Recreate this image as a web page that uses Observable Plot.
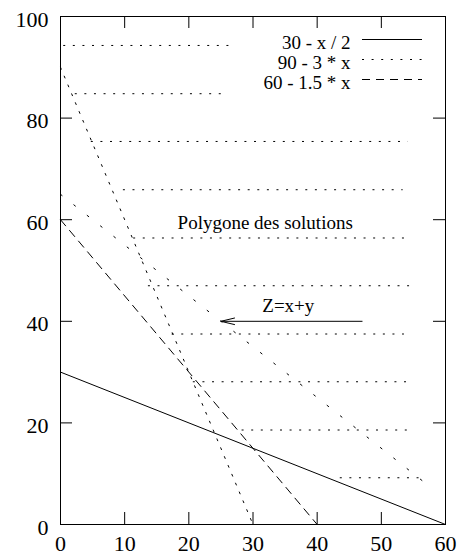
<!DOCTYPE html>
<html><head><meta charset="utf-8">
<script src="https://cdn.jsdelivr.net/npm/d3@7"></script>
<script src="https://cdn.jsdelivr.net/npm/@observablehq/plot@0.6"></script>
<style>body{margin:0;background:#fff}</style>
</head><body><div id="chart"></div>
<script>
// Tick values
const xTicks = [0, 10, 20, 30, 40, 50, 60];
const yTicks = [0, 20, 40, 60, 80, 100];
// Constraint lines (endpoints)
const lineSolid = [{x: 0, y: 30}, {x: 60, y: 0}];   // 30 - x / 2
const lineDotted = [{x: 0, y: 90}, {x: 30, y: 0}];  // 90 - 3 * x
const lineDashed = [{x: 0, y: 60}, {x: 40, y: 0}];  // 60 - 1.5 * x
// Objective (iso-Z) line, sparse dots
const objective = [{x: 0, y: 65}, {x: 58, y: 7}];
// Hatching of the feasible polygon
const hatchY = [94.3, 84.8, 75.4, 65.9, 56.4, 47.0, 37.5, 28.1, 18.6, 9.2];
const hatchStart = [0.5, 2.3, 4.8, 9.8, 11.4, 13.7, 17.4, 20.7, 28.3, 43.6];
const hatchEnd = [26.5, 25.2, 54.2, 53.4, 54.0, 54.4, 53.6, 54.2, 54.2, 55.9];
// Legend
const legendLabels = ["30 - x / 2", "90 - 3 * x", "60 - 1.5 * x"];
const legendDash = [null, "2,7.6", "8,6"];
// Annotations
const arrowZ = [{x1: 47, x2: 25, y: 40}];
const notes = [
  {x: 31.9, y: 59.4, text: "Polygone des solutions"},
  {x: 35.5, y: 43.1, text: "Z=x+y"}
];

const FONT = "Liberation Serif";
const hatch = hatchY.map((y, i) => ({y, x1: hatchStart[i], x2: hatchEnd[i]}));

const legendMarks = legendLabels.flatMap((lab, i) => [
  Plot.ruleY([100], {y: d => d, dy: 23 + 20 * i, insetLeft: 302, insetRight: 23,
    stroke: "black", strokeWidth: 1, strokeDasharray: legendDash[i]}),
  Plot.text([lab], {text: d => d, frameAnchor: "top-right", dx: -95, dy: 26 + 20 * i,
    textAnchor: "end", lineAnchor: "middle", fontSize: 19, fill: "black"})
]);

const chart = Plot.plot({
  width: 457, height: 556,
  marginLeft: 60, marginRight: 12, marginTop: 16, marginBottom: 32,
  x: {domain: [0, 60]},
  y: {domain: [0, 100]},
  style: {fontFamily: FONT, fontSize: "19px"},
  marks: [
    Plot.ruleY(hatch, {y: "y", x1: "x1", x2: "x2", stroke: "black", strokeWidth: 1, strokeDasharray: "2,7.6"}),
    Plot.line(objective, {x: "x", y: "y", stroke: "black", strokeWidth: 1, strokeDasharray: "2,15"}),
    Plot.line(lineSolid, {x: "x", y: "y", stroke: "black", strokeWidth: 1}),
    Plot.line(lineDotted, {x: "x", y: "y", stroke: "black", strokeWidth: 1, strokeDasharray: "2,7.6"}),
    Plot.line(lineDashed, {x: "x", y: "y", stroke: "black", strokeWidth: 1, strokeDasharray: "8,6"}),
    Plot.arrow(arrowZ, {x1: "x1", x2: "x2", y1: "y", y2: "y", headAngle: 27, headLength: 21, stroke: "black", strokeWidth: 1}),
    Plot.text(notes, {x: "x", y: "y", text: "text", fontSize: 19, fill: "black"}),
    ...legendMarks,
    Plot.frame({stroke: "black"}),
    Plot.tickX(xTicks, {x: d => d, insetTop: 496, stroke: "black"}),
    Plot.tickX(xTicks, {x: d => d, insetBottom: 496, stroke: "black"}),
    Plot.tickY(yTicks, {y: d => d, insetRight: 373, stroke: "black"}),
    Plot.tickY(yTicks, {y: d => d, insetLeft: 373, stroke: "black"}),
    Plot.axisX({ticks: xTicks, tickSize: 0, tickPadding: 11, fontSize: 22, label: null}),
    Plot.axisY({ticks: yTicks, tickSize: 0, tickPadding: 12, fontSize: 22, label: null, dy: 3})
  ]
});
document.getElementById("chart").appendChild(chart);
d3.select(chart).attr("font-family", FONT).selectAll("g, text").attr("font-family", FONT).style("font-family", FONT);
</script>
</body></html>
